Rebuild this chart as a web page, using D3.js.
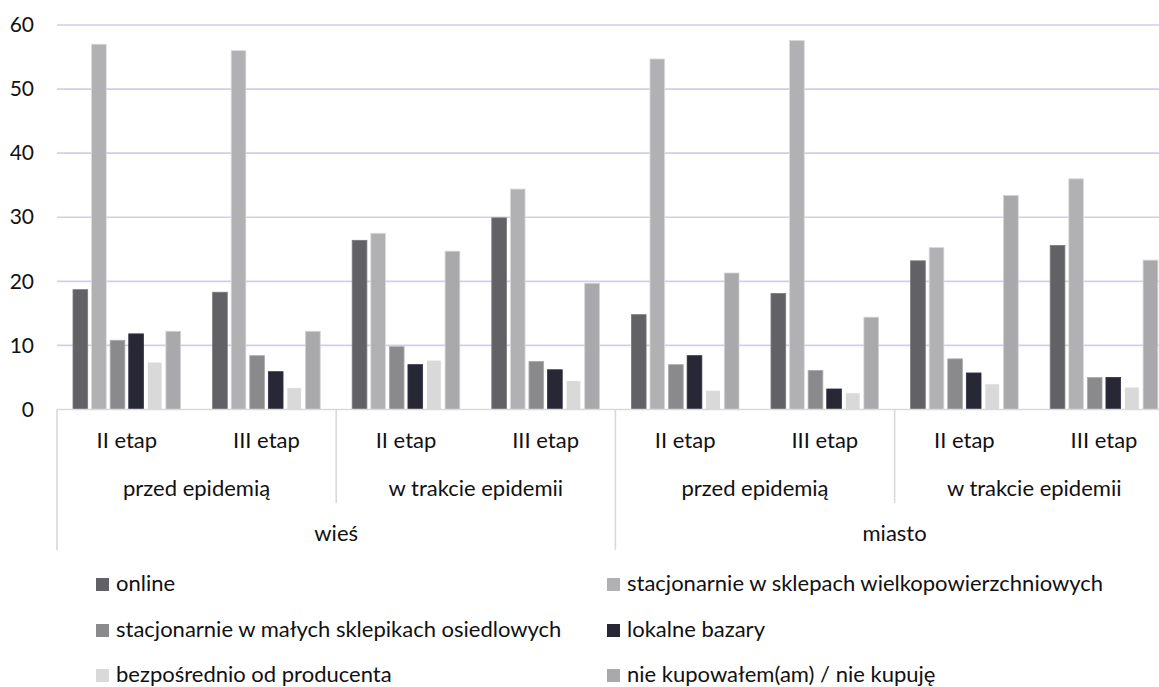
<!DOCTYPE html>
<html>
<head>
<meta charset="utf-8">
<script src="https://cdn.jsdelivr.net/npm/d3@7"></script>
<style>
  body { margin: 0; background: #fff; }
  svg { display: block; font-family: Lato, "Open Sans", sans-serif; }
  text { fill: #111; }
</style>
</head>
<body>
<div id="chart"></div>
<script>
var w = 1159;
var h = 687;

// categories, three levels
var stages = ["II etap", "III etap", "II etap", "III etap", "II etap", "III etap", "II etap", "III etap"];
var periods = ["przed epidemią", "w trakcie epidemii", "przed epidemią", "w trakcie epidemii"];
var areas = ["wieś", "miasto"];

var seriesNames = [
  "online",
  "stacjonarnie w sklepach wielkopowierzchniowych",
  "stacjonarnie w małych sklepikach osiedlowych",
  "lokalne bazary",
  "bezpośrednio od producenta",
  "nie kupowałem(am) / nie kupuję"
];
var seriesColors = ["#616166", "#b1b1b3", "#8a8a8c", "#272736", "#d9d9d9", "#a9a9ab"];

var online    = [18.7, 18.3, 26.4, 29.9, 14.8, 18.1, 23.2, 25.6];
var wielko    = [57.0, 56.0, 27.5, 34.4, 54.7, 57.6, 25.3, 36.0];
var male      = [10.8, 8.4, 9.8, 7.5, 7.0, 6.1, 7.9, 5.0];
var bazary    = [11.8, 5.9, 7.0, 6.2, 8.4, 3.2, 5.7, 5.0];
var producent = [7.4, 3.4, 7.7, 4.5, 3.0, 2.6, 4.0, 3.5];
var nie       = [12.2, 12.2, 24.7, 19.7, 21.3, 14.4, 33.4, 23.3];

var yTicks = [0, 10, 20, 30, 40, 50, 60];

var values = [online, wielko, male, bazary, producent, nie];

var plotLeft = 57;
var catStep = 139.6;
var plotRight = plotLeft + catStep * stages.length; // plot runs past the picture edge
var plotTop = 25;
var plotBottom = 409.5;
var fontSize = 22;

var svg = d3.select("#chart")
  .append("svg")
  .attr("width", w)
  .attr("height", h);

var x0 = d3.scaleBand()
  .domain(d3.range(stages.length))
  .range([plotLeft, plotRight]);

var x1 = d3.scaleBand()
  .domain(d3.range(seriesNames.length))
  .range([16, catStep - 16])
  .paddingInner(0.21);

var y = d3.scaleLinear()
  .domain([0, 60])
  .range([plotBottom, plotTop]);

// gridlines
svg.append("g")
  .selectAll("line")
  .data(yTicks.filter(function(d) { return d > 0; }))
  .enter()
  .append("line")
  .attr("x1", plotLeft)
  .attr("x2", plotRight)
  .attr("y1", function(d) { return y(d); })
  .attr("y2", function(d) { return y(d); })
  .attr("stroke", "#d2cdf0")
  .attr("stroke-width", 1.6);

// y axis labels
var yAxis = d3.axisLeft(y)
  .tickValues(yTicks)
  .tickSize(0)
  .tickPadding(23);

svg.append("g")
  .attr("transform", "translate(" + plotLeft + ",0)")
  .call(yAxis)
  .call(function(g) { g.select(".domain").remove(); })
  .selectAll("text")
    .attr("font-family", "Lato, sans-serif")
    .attr("font-size", 21)
    .attr("fill", "#111");

// bars
var groups = svg.append("g")
  .selectAll("g")
  .data(stages)
  .enter()
  .append("g")
  .attr("transform", function(d, i) { return "translate(" + x0(i) + ",0)"; });

groups.selectAll("rect")
  .data(function(d, i) {
    return values.map(function(s, k) { return { k: k, v: s[i] }; });
  })
  .enter()
  .append("rect")
  .attr("x", function(d) { return x1(d.k); })
  .attr("width", x1.bandwidth())
  .attr("y", function(d) { return y(d.v); })
  .attr("height", function(d) { return plotBottom - y(d.v); })
  .attr("fill", function(d) { return seriesColors[d.k]; })
  .attr("stroke", function(d) { return d3.color(seriesColors[d.k]).brighter(0.6); })
  .attr("stroke-width", 0.8);

// category axis
var axisColor = "#d9d9d9";
svg.append("line")
  .attr("x1", plotLeft).attr("x2", plotRight)
  .attr("y1", plotBottom).attr("y2", plotBottom)
  .attr("stroke", axisColor).attr("stroke-width", 1.6);

var periodStep = catStep * 2;
var areaStep = catStep * 4;

svg.append("g")
  .selectAll("line")
  .data(d3.range(periods.length + 1))
  .enter()
  .append("line")
  .attr("x1", function(d) { return plotLeft + d * periodStep; })
  .attr("x2", function(d) { return plotLeft + d * periodStep; })
  .attr("y1", plotBottom)
  .attr("y2", function(d) { return d % 2 === 0 ? 550 : 503; })
  .attr("stroke", axisColor)
  .attr("stroke-width", 1.6);

svg.append("g")
  .selectAll("text")
  .data(stages)
  .enter()
  .append("text")
  .attr("x", function(d, i) { return x0(i) + x0.bandwidth() / 2; })
  .attr("y", 448)
  .attr("text-anchor", "middle")
  .attr("font-size", fontSize)
  .text(function(d) { return d; });

svg.append("g")
  .selectAll("text")
  .data(periods)
  .enter()
  .append("text")
  .attr("x", function(d, i) { return plotLeft + periodStep * (i + 0.5); })
  .attr("y", 496)
  .attr("text-anchor", "middle")
  .attr("font-size", fontSize)
  .text(function(d) { return d; });

svg.append("g")
  .selectAll("text")
  .data(areas)
  .enter()
  .append("text")
  .attr("x", function(d, i) { return plotLeft + areaStep * (i + 0.5); })
  .attr("y", 541)
  .attr("text-anchor", "middle")
  .attr("font-size", fontSize)
  .text(function(d) { return d; });

// legend
var legendX = [96, 607];
var legendY = [585, 631, 676];

var legend = svg.append("g")
  .selectAll("g")
  .data(seriesNames)
  .enter()
  .append("g")
  .attr("transform", function(d, i) {
    return "translate(" + legendX[i % 2] + "," + legendY[Math.floor(i / 2)] + ")";
  });

legend.append("rect")
  .attr("x", 0)
  .attr("y", -7)
  .attr("width", 13)
  .attr("height", 13)
  .attr("fill", function(d, i) { return seriesColors[i]; });

legend.append("text")
  .attr("x", 20)
  .attr("y", 6)
  .attr("font-size", fontSize)
  .text(function(d) { return d; });
</script>
</body>
</html>
